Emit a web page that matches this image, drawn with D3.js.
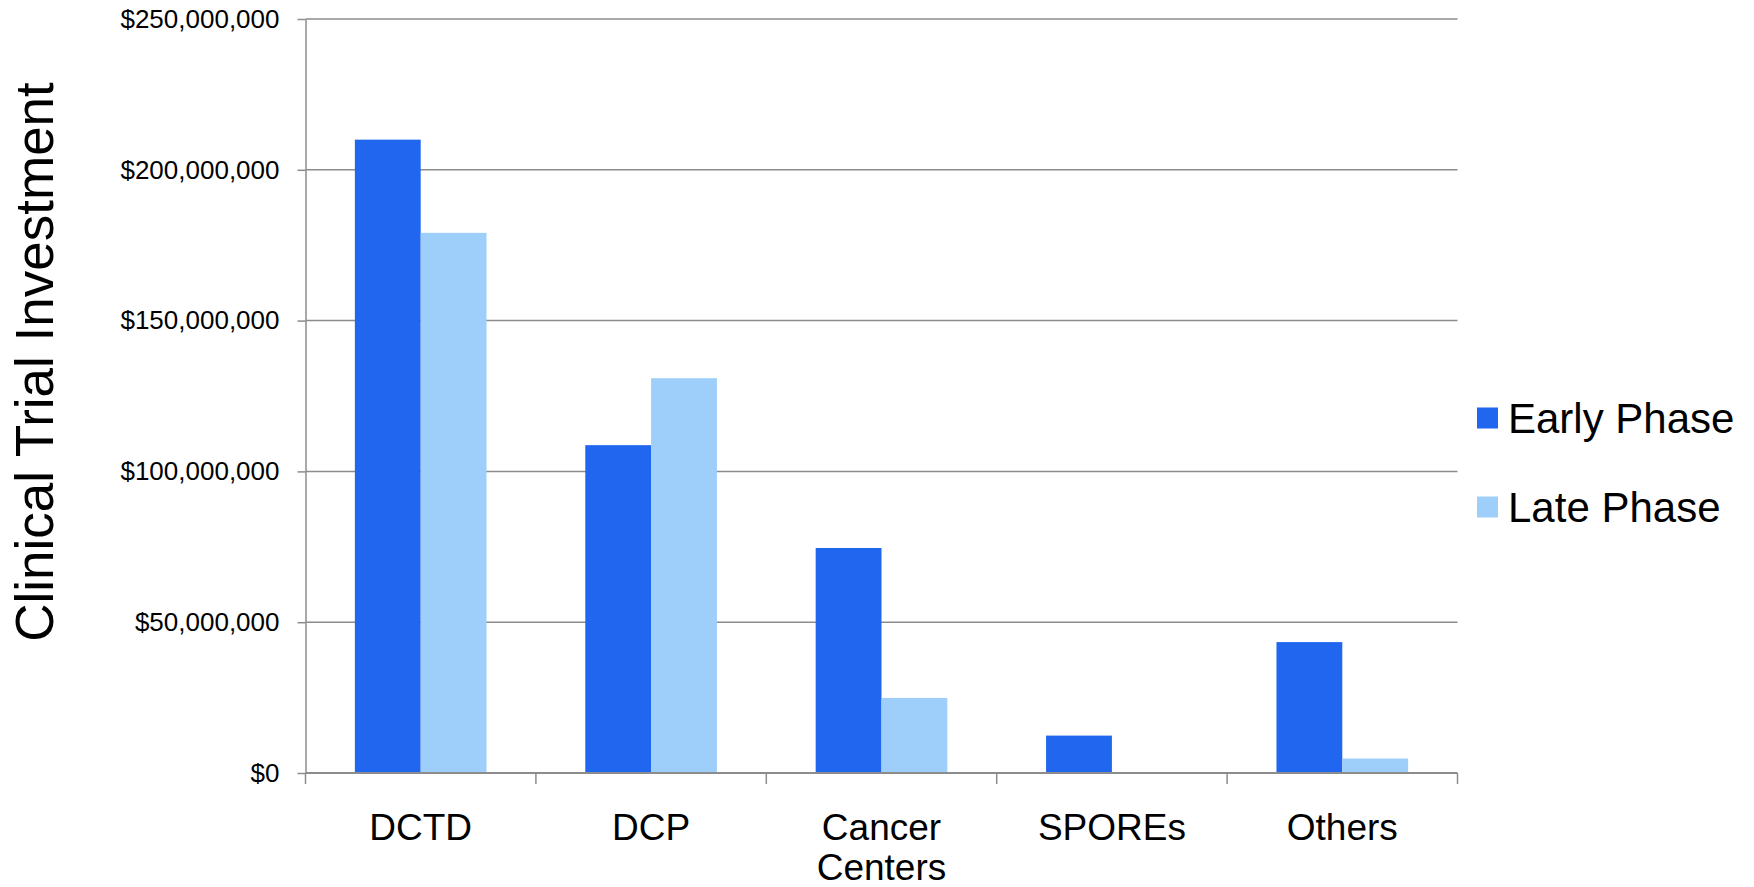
<!DOCTYPE html>
<html lang="en">
<head>
<meta charset="utf-8">
<title>Clinical Trial Investment</title>
<script src="https://cdn.jsdelivr.net/npm/d3@7"></script>
<style>
  body { margin: 0; background: #fff; }
  text { font-family: "Liberation Sans", Arial, sans-serif; fill: #000; }
</style>
</head>
<body>
<script>
// data
var categories = ["DCTD", "DCP", "Cancer Centers", "SPOREs", "Others"];
var seriesNames = ["Early Phase", "Late Phase"];
var earlyPhase = [210000000, 108700000, 74600000, 12400000, 43400000];
var latePhase = [179100000, 130900000, 24900000, 0, 4800000];
var yTicks = [0, 50000000, 100000000, 150000000, 200000000, 250000000];
var colors = ["#2166ef", "#9ecffa"];

var W = 1754, H = 887;
var plot = {left: 305.5, right: 1457.5, top: 19, bottom: 773};

var svg = d3.select("body").append("svg")
    .attr("width", W)
    .attr("height", H);

var x0 = d3.scaleBand()
    .domain(categories)
    .range([plot.left, plot.right]);

// bar width = band / 3.5 (gap of 150%)
var x1 = d3.scaleBand()
    .domain(seriesNames)
    .range([0, x0.bandwidth()])
    .paddingOuter(0.75)
    .paddingInner(0);

var y = d3.scaleLinear()
    .domain([0, 250000000])
    .range([plot.bottom, plot.top]);

var fmt = function (d) { return "$" + d3.format(",")(d); };

// gridlines
svg.append("g")
    .selectAll("line")
    .data(yTicks.slice(1))
    .enter().append("line")
    .attr("x1", plot.left)
    .attr("x2", plot.right)
    .attr("y1", function (d) { return y(d); })
    .attr("y2", function (d) { return y(d); })
    .attr("stroke", "#8c8c8c")
    .attr("stroke-width", 1.5);

// bars
var rows = categories.map(function (c, i) {
    return {cat: c, vals: [earlyPhase[i], latePhase[i]]};
});

svg.append("g")
    .selectAll("g")
    .data(rows)
    .enter().append("g")
    .attr("transform", function (d) { return "translate(" + x0(d.cat) + ",0)"; })
    .selectAll("rect")
    .data(function (d) { return d.vals.map(function (v, j) { return {name: seriesNames[j], v: v, j: j}; }); })
    .enter().append("rect")
    .attr("x", function (d) { return x1(d.name); })
    .attr("width", x1.bandwidth())
    .attr("y", function (d) { return y(d.v); })
    .attr("height", function (d) { return y(0) - y(d.v); })
    .attr("fill", function (d) { return colors[d.j]; });

// y axis
var yAxis = svg.append("g")
    .attr("transform", "translate(" + plot.left + ",0)")
    .call(d3.axisLeft(y).tickValues(yTicks).tickFormat(fmt).tickSize(8).tickPadding(18).tickSizeOuter(0));
yAxis.selectAll("line, path").attr("stroke", "#8c8c8c").attr("stroke-width", 1.5);
yAxis.selectAll("text")
    .attr("font-size", 26)
    .attr("font-family", "Liberation Sans, Arial, sans-serif")
    .attr("fill", "#000");

// x axis
var xAxis = svg.append("g")
    .attr("transform", "translate(0," + plot.bottom + ")");
xAxis.append("line")
    .attr("x1", plot.left).attr("x2", plot.right)
    .attr("stroke", "#8c8c8c").attr("stroke-width", 2);
var bounds = categories.map(function (c) { return x0(c); }).concat([plot.right]);
xAxis.selectAll("line.tk")
    .data(bounds)
    .enter().append("line")
    .attr("class", "tk")
    .attr("x1", function (d) { return d; })
    .attr("x2", function (d) { return d; })
    .attr("y1", 0).attr("y2", 11)
    .attr("stroke", "#8c8c8c").attr("stroke-width", 1.5);

xAxis.selectAll("text.cat")
    .data(categories)
    .enter().append("text")
    .attr("class", "cat")
    .attr("text-anchor", "middle")
    .attr("font-size", 37)
    .attr("x", function (d) { return x0(d) + x0.bandwidth() / 2; })
    .attr("y", 67)
    .each(function (d) {
        var words = d.split(" ");
        var t = d3.select(this);
        words.forEach(function (w, k) {
            t.append("tspan")
                .attr("x", x0(d) + x0.bandwidth() / 2)
                .attr("dy", k === 0 ? 0 : 40)
                .text(w);
        });
    });

// y title
svg.append("text")
    .attr("transform", "translate(53," + ((plot.top + plot.bottom) / 2 - 34) + ") rotate(-90)")
    .attr("text-anchor", "middle")
    .attr("font-size", 53)
    .text("Clinical Trial Investment");

// legend
var legend = svg.append("g")
    .selectAll("g")
    .data(seriesNames)
    .enter().append("g")
    .attr("transform", function (d, i) { return "translate(1477," + (418 + i * 89) + ")"; });
legend.append("rect")
    .attr("x", 0).attr("y", -10.5)
    .attr("width", 21).attr("height", 21)
    .attr("fill", function (d, i) { return colors[i]; });
legend.append("text")
    .attr("x", 31)
    .attr("y", 15)
    .attr("font-size", 42)
    .text(function (d) { return d; });
</script>
</body>
</html>
